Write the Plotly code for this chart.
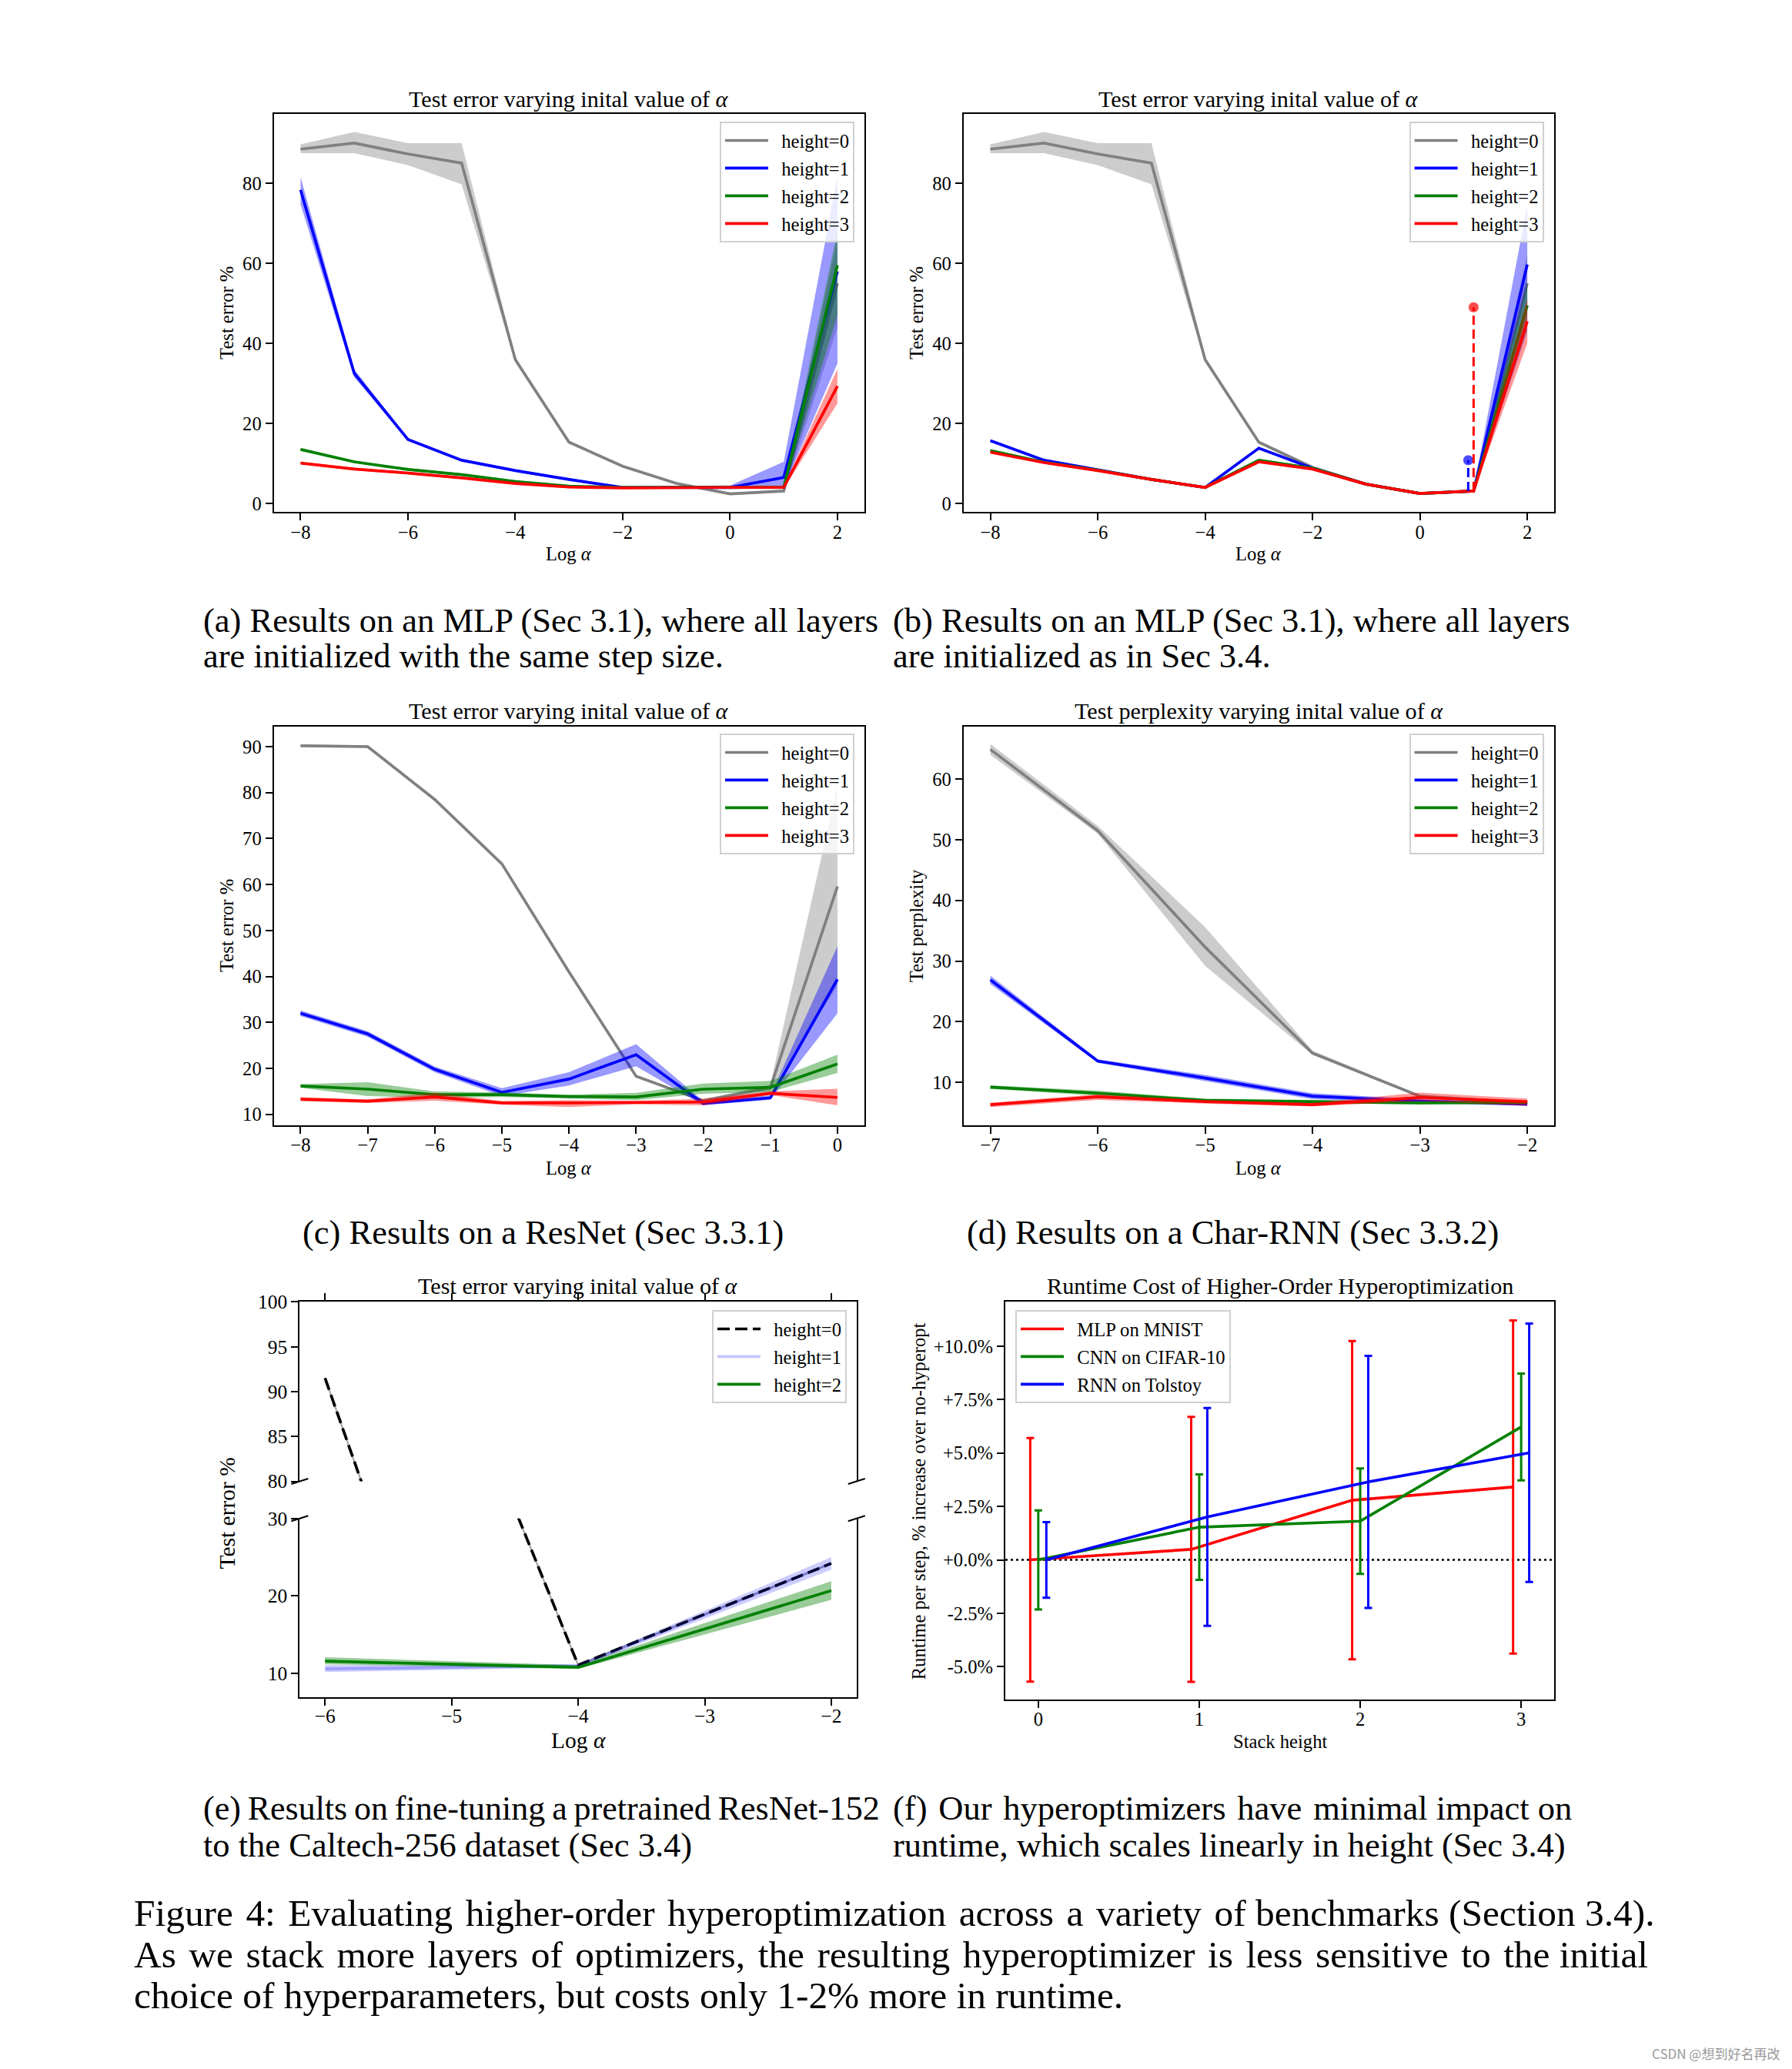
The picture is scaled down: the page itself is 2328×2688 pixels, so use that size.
import plotly.graph_objects as go

W, H = 2328, 2688
FONT = "Liberation Serif"
PAGE_OFF = 8  # html body margin of the page, compensated so marks land where intended

# ---------------- data ----------------
# (a) MLP, same step size
a_x = [-8, -7, -6, -5, -4, -3, -2, -1, 0, 1, 2]
a_h0 = [88.5, 90.0, 87.3, 85.0, 35.9, 15.3, 9.3, 5.0, 2.4, 3.1, 55.0]
a_h0_lo = [87.5, 87.5, 84.5, 79.7, 35.3, 15.0, 9.0, 4.7, 2.1, 2.7, 44.0]
a_h0_hi = [89.7, 92.8, 90.0, 90.0, 36.5, 15.6, 9.6, 5.3, 2.7, 3.5, 66.0]
a_h1 = [78.3, 32.5, 16.0, 10.8, 8.2, 6.0, 4.0, 4.0, 4.0, 6.5, 58.0]
a_h1_lo = [74.7, 31.5, 15.7, 10.5, 7.9, 5.7, 3.7, 3.6, 3.5, 4.0, 35.0]
a_h1_hi = [81.5, 33.5, 16.3, 11.1, 8.5, 6.3, 4.3, 4.4, 4.5, 10.4, 81.6]
a_h2 = [13.5, 10.4, 8.5, 7.2, 5.5, 4.3, 4.0, 4.0, 4.0, 4.0, 59.5]
a_h2_lo = [13.2, 10.1, 8.2, 6.9, 5.2, 4.0, 3.7, 3.7, 3.6, 3.6, 47.0]
a_h2_hi = [13.8, 10.7, 8.8, 7.5, 5.8, 4.6, 4.3, 4.3, 4.4, 4.4, 68.0]
a_h3 = [10.1, 8.6, 7.6, 6.4, 5.0, 4.1, 3.9, 4.0, 4.0, 4.0, 29.3]
a_h3_lo = [9.8, 8.3, 7.3, 6.1, 4.7, 3.8, 3.6, 3.7, 3.7, 3.7, 25.0]
a_h3_hi = [10.4, 8.9, 7.9, 6.7, 5.3, 4.4, 4.2, 4.3, 4.3, 4.3, 33.6]

# (b) MLP, initialized as in Sec 3.4
b_x = [-8, -7, -6, -5, -4, -3, -2, -1, 0, 1, 2]
b_h0 = [88.5, 90.0, 87.3, 85.0, 35.9, 15.3, 9.0, 4.8, 2.5, 3.1, 55.0]
b_h0_lo = [87.5, 87.5, 84.5, 79.7, 35.3, 15.0, 8.7, 4.5, 2.2, 2.8, 48.0]
b_h0_hi = [89.7, 92.8, 90.0, 90.0, 36.5, 15.6, 9.3, 5.1, 2.8, 3.4, 62.0]
b_h1 = [15.7, 10.8, 8.4, 6.0, 4.0, 13.8, 8.8, 4.8, 2.5, 3.1, 59.7]
b_h1_lo = [15.4, 10.5, 8.1, 5.7, 3.7, 13.5, 8.5, 4.5, 2.2, 2.8, 43.0]
b_h1_hi = [16.0, 11.1, 8.7, 6.3, 4.3, 14.1, 9.1, 5.1, 2.8, 3.4, 74.5]
b_h2 = [13.2, 10.3, 8.3, 6.0, 4.0, 10.8, 8.8, 4.8, 2.5, 3.1, 49.5]
b_h2_lo = [12.9, 10.0, 8.0, 5.7, 3.7, 10.5, 8.5, 4.5, 2.2, 2.8, 44.0]
b_h2_hi = [13.5, 10.6, 8.6, 6.3, 4.3, 11.1, 9.1, 5.1, 2.8, 3.4, 55.0]
b_h3 = [12.8, 10.2, 8.2, 6.0, 4.0, 10.4, 8.6, 4.8, 2.5, 3.1, 45.5]
b_h3_lo = [12.5, 9.9, 7.9, 5.7, 3.7, 10.1, 8.3, 4.5, 2.2, 2.8, 40.0]
b_h3_hi = [13.1, 10.5, 8.5, 6.3, 4.3, 10.7, 8.9, 5.1, 2.8, 3.4, 51.0]
b_stem_x = [0.9, 1.0]
b_stem_base = [3.1, 3.1]
b_stem_top = [10.8, 49.0]

# (c) ResNet
c_x = [-8, -7, -6, -5, -4, -3, -2, -1, 0]
c_h0 = [90.2, 90.0, 78.5, 64.5, 41.0, 18.3, 13.0, 15.8, 59.6]
c_h0_lo = [89.9, 89.7, 78.2, 64.2, 40.7, 18.0, 12.7, 15.0, 38.0]
c_h0_hi = [90.5, 90.3, 78.8, 64.8, 41.3, 18.6, 13.3, 16.5, 81.5]
c_h1 = [32.0, 27.5, 19.8, 14.8, 17.7, 23.0, 12.4, 13.6, 39.4]
c_h1_lo = [31.4, 26.9, 19.2, 14.0, 16.3, 20.5, 12.0, 13.2, 32.0]
c_h1_hi = [32.6, 28.1, 20.4, 15.7, 19.2, 25.3, 12.9, 14.1, 46.6]
c_h2 = [16.2, 15.5, 14.3, 14.3, 13.9, 13.8, 15.5, 15.9, 21.0]
c_h2_lo = [15.8, 14.0, 13.6, 13.8, 13.5, 13.1, 14.5, 14.9, 19.0]
c_h2_hi = [16.6, 17.0, 15.0, 14.8, 14.3, 14.7, 16.7, 17.3, 23.0]
c_h3 = [13.3, 12.9, 13.8, 12.5, 12.5, 12.6, 12.7, 14.6, 13.7]
c_h3_lo = [12.9, 12.5, 13.0, 12.1, 11.6, 12.2, 12.0, 14.2, 12.0]
c_h3_hi = [13.8, 13.3, 14.7, 12.9, 13.1, 13.0, 13.4, 15.0, 15.6]

# (d) Char-RNN
d_x = [-7, -6, -5, -4, -3, -2]
d_h0 = [64.9, 51.5, 32.3, 14.8, 7.7, 6.6]
d_h0_lo = [64.0, 51.0, 29.2, 14.5, 7.5, 6.4]
d_h0_hi = [65.8, 52.3, 35.6, 15.2, 7.9, 6.8]
d_h1 = [26.9, 13.5, 10.7, 7.7, 6.9, 6.4]
d_h1_lo = [26.2, 13.2, 10.2, 7.2, 6.6, 6.1]
d_h1_hi = [27.6, 13.8, 11.2, 8.2, 7.2, 6.7]
d_h2 = [9.2, 8.2, 7.0, 6.8, 6.6, 6.7]
d_h2_lo = [8.9, 7.8, 6.7, 6.5, 6.4, 6.4]
d_h2_hi = [9.5, 8.6, 7.3, 7.1, 6.8, 7.0]
d_h3 = [6.3, 7.6, 6.8, 6.3, 7.5, 6.8]
d_h3_lo = [5.9, 7.1, 6.5, 6.0, 6.9, 6.1]
d_h3_hi = [6.6, 8.0, 7.1, 6.6, 8.3, 7.3]

# (e) ResNet-152 fine-tuning (broken axis)
e_x = [-6, -4, -2]
e_h0 = [91.5, 11.1, 24.2]
e_h1 = [10.6, 11.0, 24.2]
e_h1_lo = [10.2, 10.8, 23.4]
e_h1_hi = [11.1, 11.2, 25.0]
e_h2 = [11.6, 10.8, 20.7]
e_h2_lo = [11.2, 10.6, 19.5]
e_h2_hi = [12.1, 11.1, 21.9]

# (f) runtime cost
f_x = [0, 1, 2, 3]
f_mlp = [0.0, 0.49, 2.79, 3.41]
f_mlp_err = [5.7, 6.2, 7.45, 7.8]
f_cnn = [0.0, 1.53, 1.81, 6.22]
f_cnn_err = [2.32, 2.47, 2.47, 2.5]
f_rnn = [0.0, 2.01, 3.65, 5.01]
f_rnn_err = [1.77, 5.1, 5.9, 6.05]
f_ticks = [-5.0, -2.5, 0.0, 2.5, 5.0, 7.5, 10.0]

# ---------------- helpers ----------------
GRAY, BLUE, GREEN, RED = (128, 128, 128), (0, 0, 255), (0, 128, 0), (255, 0, 0)
SP = "\u2002"  # gap between legend handle and label


def col(c, a=1.0):
    return "rgba(%d,%d,%d,%s)" % (c[0], c[1], c[2], a)


def px_x(v):
    return (v - PAGE_OFF) / W


def px_y(v):
    return 1 - (v - PAGE_OFF) / H


fig = go.Figure()
LW = 3.7


def band(x, lo, hi, c, xa, ya, alpha=0.4):
    fig.add_trace(go.Scatter(
        x=list(x) + list(x)[::-1], y=list(hi) + list(lo)[::-1],
        fill="toself", fillcolor=col(c, alpha), line=dict(width=0),
        mode="lines", hoverinfo="skip", showlegend=False, xaxis=xa, yaxis=ya))


def line(x, y, c, name, xa, ya, leg, show=True, width=LW, dash="solid", alpha=1.0):
    fig.add_trace(go.Scatter(
        x=x, y=y, mode="lines", name=SP + name, legendgroup=leg + name,
        line=dict(color=col(c, alpha), width=width, dash=dash),
        xaxis=xa, yaxis=ya, legend=leg, showlegend=show))


names = ["height=0", "height=1", "height=2", "height=3"]
colors = [GRAY, BLUE, GREEN, RED]

panels = [
    ("x", "y", "legend", a_x, [(a_h0, a_h0_lo, a_h0_hi), (a_h1, a_h1_lo, a_h1_hi), (a_h2, a_h2_lo, a_h2_hi), (a_h3, a_h3_lo, a_h3_hi)]),
    ("x2", "y2", "legend2", b_x, [(b_h0, b_h0_lo, b_h0_hi), (b_h1, b_h1_lo, b_h1_hi), (b_h2, b_h2_lo, b_h2_hi), (b_h3, b_h3_lo, b_h3_hi)]),
    ("x3", "y3", "legend3", c_x, [(c_h0, c_h0_lo, c_h0_hi), (c_h1, c_h1_lo, c_h1_hi), (c_h2, c_h2_lo, c_h2_hi), (c_h3, c_h3_lo, c_h3_hi)]),
    ("x4", "y4", "legend4", d_x, [(d_h0, d_h0_lo, d_h0_hi), (d_h1, d_h1_lo, d_h1_hi), (d_h2, d_h2_lo, d_h2_hi), (d_h3, d_h3_lo, d_h3_hi)]),
]
for xa, ya, leg, xs, series in panels:
    for (m, lo, hi), c, nm in zip(series, colors, names):
        band(xs, lo, hi, c, xa, ya, 0.4)
        line(xs, m, c, nm, xa, ya, leg)

# stems in (b)
for sx, sb, st, c in zip(b_stem_x, b_stem_base, b_stem_top, [BLUE, RED]):
    fig.add_trace(go.Scatter(
        x=[sx, sx], y=[sb, st], mode="lines+markers",
        line=dict(color=col(c), width=3, dash="12px,6px"),
        marker=dict(size=[0, 14], color=col(c)),
        xaxis="x2", yaxis="y2", showlegend=False, hoverinfo="skip"))

# (e) broken axis: draw on both upper (x5,y5) and lower (x6,y6)
for xa, ya, show in [("x6", "y6", True), ("x5", "y5", False)]:
    band(e_x, e_h1_lo, e_h1_hi, BLUE, xa, ya, 0.2)
    band(e_x, e_h2_lo, e_h2_hi, GREEN, xa, ya, 0.4)
    line(e_x, e_h0, GRAY, "gray", xa, ya, "legend5", show=False, width=2.2, alpha=0.7)
    line(e_x, e_h0, (0, 0, 0), "height=0", xa, ya, "legend5", show=show, dash="16px,7px")
    line(e_x, e_h1, BLUE, "height=1", xa, ya, "legend5", show=show, alpha=0.22)
    line(e_x, e_h2, GREEN, "height=2", xa, ya, "legend5", show=show)

# (f) runtime error bars
for off, ys, err, c, nm in [(-0.05, f_mlp, f_mlp_err, RED, "MLP on MNIST"),
                            (0.0, f_cnn, f_cnn_err, GREEN, "CNN on CIFAR-10"),
                            (0.05, f_rnn, f_rnn_err, BLUE, "RNN on Tolstoy")]:
    fig.add_trace(go.Scatter(
        x=[v + off for v in f_x], y=ys, mode="lines", name=SP + nm, legendgroup=nm,
        line=dict(color=col(c), width=LW),
        error_y=dict(type="data", array=err, visible=True, color=col(c), thickness=3, width=5),
        xaxis="x7", yaxis="y7", legend="legend6"))

# ---------------- axes ----------------
TICKFONT = dict(family=FONT, size=24.6, color="black")


def ax(domain, rng, tickvals, anchor, mirror=True, **kw):
    d = dict(domain=domain, range=rng, tickvals=tickvals, anchor=anchor,
             showline=True, linecolor="black", linewidth=2, mirror=mirror,
             ticks="outside", ticklen=9, tickwidth=2, tickcolor="black",
             showgrid=False, zeroline=False, tickfont=TICKFONT, automargin=False)
    d.update(kw)
    return d


XS = -6  # pull x tick labels a little closer to the axis
XL, XR = [px_x(355.6), px_x(1122.8)], [px_x(1251.7), px_x(2019)]
ROW1 = [px_y(665), px_y(148)]
ROW2 = [px_y(1461.6), px_y(943.7)]
EFONT = dict(family=FONT, size=25.5, color="black")

layout = dict(
    width=W, height=H, autosize=False,
    margin=dict(l=0, r=0, t=0, b=0, pad=0, autoexpand=False),
    paper_bgcolor="white", plot_bgcolor="white",
    font=dict(family=FONT, color="black"),
    xaxis=ax(XL, [-8.5, 2.5], [-8, -6, -4, -2, 0, 2], "y", ticklabelstandoff=XS),
    yaxis=ax(ROW1, [-2.1, 97.3], [0, 20, 40, 60, 80], "x"),
    xaxis2=ax(XR, [-8.5, 2.5], [-8, -6, -4, -2, 0, 2], "y2", ticklabelstandoff=XS),
    yaxis2=ax(ROW1, [-2.1, 97.3], [0, 20, 40, 60, 80], "x2"),
    xaxis3=ax(XL, [-8.4, 0.4], c_x, "y3", ticklabelstandoff=XS),
    yaxis3=ax(ROW2, [7.7, 94.4], [10, 20, 30, 40, 50, 60, 70, 80, 90], "x3"),
    xaxis4=ax(XR, [-7.25, -1.75], d_x, "y4", ticklabelstandoff=XS),
    yaxis4=ax(ROW2, [2.95, 68.7], [10, 20, 30, 40, 50, 60], "x4"),
    # (e) upper
    xaxis5=ax([px_x(389.4), px_x(1112.8)], [-6.2, -1.8], [-6, -5, -4, -3, -2], "y5",
              mirror=False, side="top", showticklabels=False),
    yaxis5=ax([px_y(1924.5), px_y(1691.4)], [80, 100], [80, 85, 90, 95, 100], "x5", tickfont=EFONT),
    # (e) lower
    xaxis6=ax([px_x(389.4), px_x(1112.8)], [-6.2, -1.8], [-6, -5, -4, -3, -2], "y6",
              mirror=False, tickfont=EFONT, ticklabelstandoff=-8),
    yaxis6=ax([px_y(2204.5), px_y(1972.7)], [7, 30], [10, 20, 30], "x6", tickfont=EFONT),
    # (f)
    xaxis7=ax([px_x(1306), px_x(2019)], [-0.205, 3.205], f_x, "y7", ticklabelstandoff=-7),
    yaxis7=ax([px_y(2208), px_y(1691)], [-6.54, 12.09], f_ticks, "x7",
              ticktext=[("+" if v >= 0 else "-") + "%.1f%%" % abs(v) for v in f_ticks]),
)

LEGFONT = dict(family=FONT, size=24.6, color="black")


def legend(xr, yt, xanchor="right"):
    return dict(x=xr, y=yt, xanchor=xanchor, yanchor="top", xref="paper", yref="paper",
                bgcolor="rgba(255,255,255,0.8)", bordercolor="#d0d0d0", borderwidth=2,
                font=LEGFONT, itemwidth=56, tracegroupgap=1)


layout["legend"] = legend(px_x(1110), px_y(158))
layout["legend2"] = legend(px_x(2005.6), px_y(158))
layout["legend3"] = legend(px_x(1110), px_y(953))
layout["legend4"] = legend(px_x(2005.6), px_y(953))
layout["legend5"] = legend(px_x(1100), px_y(1702))
layout["legend6"] = legend(px_x(1319), px_y(1702), xanchor="left")

fig.update_layout(**layout)

# ---------------- text ----------------
ann = []


def text(s, x, y, size, xanchor="center", angle=0, color="black", family=FONT):
    ann.append(dict(text=s, x=px_x(x), y=px_y(y), xref="paper", yref="paper",
                    xanchor=xanchor, yanchor="middle", showarrow=False, textangle=angle,
                    font=dict(family=family, size=size, color=color)))


def justify(s, n):
    """widen the first n word gaps slightly (LaTeX-style justified line)"""
    words = s.split(" ")
    out = words[0]
    for i, w in enumerate(words[1:]):
        out += ("\u2004" if i < n else " ") + w
    return out


TS = 30.2
TT = "Test error varying inital value of <i>α</i>"
text(TT, 739.2, 128.6, TS)
text(TT, 1635.35, 128.6, TS)
text(TT, 739.2, 924.5, TS)
text("Test perplexity varying inital value of <i>α</i>", 1635.35, 924.5, TS)
text(TT, 751.1, 1670.6, TS)
text("Runtime Cost of Higher-Order Hyperoptimization", 1662.5, 1670.6, TS)

LA = "Log <i>α</i>"
text(LA, 739.2, 720, 24.6)
text(LA, 1635.35, 720, 24.6)
text(LA, 739.2, 1518, 24.6)
text(LA, 1635.35, 1518, 24.6)
text(LA, 751.1, 2261, 29.5)
text("Stack height", 1662.5, 2262, 24.6)

text("Test error %", 294.4, 406.5, 24.6, angle=-90)
text("Test error %", 1190.6, 406.5, 24.6, angle=-90)
text("Test error %", 294.4, 1202.6, 24.6, angle=-90)
text("Test perplexity", 1190.6, 1202.6, 24.6, angle=-90)
text("Test error %", 294, 1966.5, 29.5, angle=-90)
text("Runtime per step, % increase over no-hyperopt", 1193.3, 1950, 24.6, angle=-90)

CAP = 44.5
TH = "\u2009"
text("(a) Results on an MLP (Sec 3.1), where all layers", 262, 806, CAP, "left")
text("are initialized with the same step size.", 262, 852, CAP, "left")
text("(b) Results on an MLP (Sec 3.1), where all layers", 1158, 806, CAP, "left")
text("are initialized as in Sec 3.4.", 1158, 852, CAP, "left")
text("(c) Results on a ResNet (Sec 3.3.1)", 705, 1601, CAP)
text("(d) Results on a Char-RNN (Sec 3.3.2)", 1601, 1601, CAP)
text("(e) Results on fine-tuning a pretrained ResNet-152".replace(" ", TH), 262, 2349, 44.0, "left")
text("to the Caltech-256 dataset (Sec 3.4)", 262, 2397, CAP, "left")
text(justify("(f) Our hyperoptimizers have minimal impact on", 4), 1158, 2349, CAP, "left")
text("runtime, which scales linearly in height (Sec 3.4)", 1158, 2397, CAP, "left")

FC = 49.4
text(justify("Figure 4: Evaluating higher-order hyperoptimization across a variety of benchmarks (Section 3.4).", 8),
     172, 2485, FC, "left")
text(justify("As we stack more layers of optimizers, the resulting hyperoptimizer is less sensitive to the initial", 14),
     172, 2539, FC, "left")
text("choice of hyperparameters, but costs only 1-2% more in runtime.", 172, 2592, FC, "left")

text("CSDN @想到好名再改", 2314, 2667, 17, "right", color="#999999", family="Noto Sans CJK SC")

fig.update_layout(annotations=ann)

# ---------------- decorations: broken-axis marks, zero line ----------------
shapes = []
for xc in [389.4, 1112.8]:
    for yc in [1924.5, 1972.7]:
        shapes.append(dict(type="line", xref="paper", yref="paper",
                           x0=px_x(xc - 11), y0=px_y(yc + 3.5), x1=px_x(xc + 11), y1=px_y(yc - 3.5),
                           line=dict(color="black", width=2)))
shapes.append(dict(type="line", xref="x7 domain", yref="y7", x0=0, x1=1, y0=0, y1=0,
                   line=dict(color="black", width=2.5, dash="3px,4px"), layer="below"))
fig.update_layout(shapes=shapes)

fig.write_html("out.html")
